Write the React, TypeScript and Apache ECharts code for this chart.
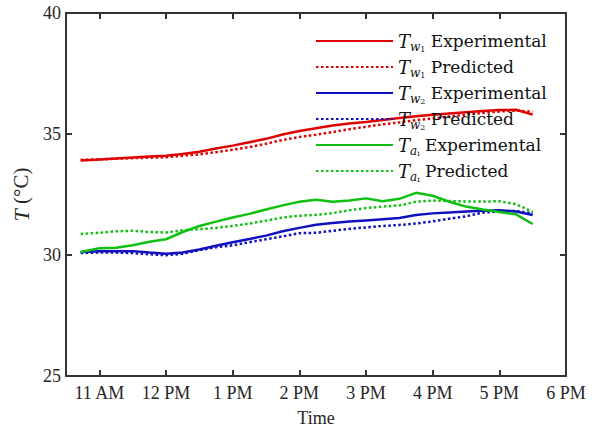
import React, { useEffect, useRef } from "react";
import * as echarts from "echarts";

const hours = [10.72, 11.0, 11.25, 11.5, 11.75, 12.0, 12.25, 12.5, 12.75, 13.0, 13.25, 13.5, 13.75, 14.0, 14.25, 14.5, 14.75, 15.0, 15.25, 15.5, 15.75, 16.0, 16.25, 16.5, 16.75, 17.0, 17.25, 17.5];

const tw1Exp = [33.9, 33.95, 33.99, 34.03, 34.07, 34.1, 34.17, 34.27, 34.4, 34.52, 34.66, 34.8, 34.98, 35.12, 35.24, 35.35, 35.43, 35.5, 35.58, 35.66, 35.73, 35.8, 35.85, 35.9, 35.95, 35.99, 36.0, 35.8];
const tw1Pred = [33.93, 33.95, 33.98, 34.0, 34.02, 34.04, 34.1, 34.16, 34.25, 34.35, 34.46, 34.6, 34.75, 34.88, 34.97, 35.08, 35.2, 35.3, 35.4, 35.48, 35.57, 35.64, 35.72, 35.8, 35.87, 35.93, 35.97, 35.92];
const tw2Exp = [30.12, 30.15, 30.16, 30.16, 30.1, 30.05, 30.1, 30.23, 30.38, 30.53, 30.66, 30.8, 30.98, 31.12, 31.25, 31.32, 31.38, 31.43, 31.48, 31.53, 31.65, 31.72, 31.76, 31.8, 31.83, 31.85, 31.8, 31.65];
const tw2Pred = [30.08, 30.1, 30.1, 30.08, 30.03, 29.99, 30.05, 30.2, 30.32, 30.4, 30.53, 30.65, 30.77, 30.9, 30.92, 31.0, 31.08, 31.14, 31.2, 31.24, 31.3, 31.39, 31.5, 31.6, 31.75, 31.8, 31.82, 31.72];
const taiExp = [30.12, 30.28, 30.3, 30.4, 30.55, 30.65, 30.95, 31.2, 31.38, 31.55, 31.7, 31.88, 32.05, 32.2, 32.28, 32.2, 32.25, 32.34, 32.22, 32.32, 32.57, 32.45, 32.2, 32.0, 31.88, 31.78, 31.68, 31.28];
const taiPred = [30.87, 30.92, 30.98, 31.0, 30.95, 30.93, 31.02, 31.07, 31.12, 31.2, 31.3, 31.42, 31.55, 31.62, 31.66, 31.73, 31.85, 31.94, 32.0, 32.05, 32.2, 32.25, 32.23, 32.21, 32.21, 32.22, 32.1, 31.78];

const xTicks = [11, 12, 13, 14, 15, 16, 17, 18];
const xTickLabels = ["11 AM", "12 PM", "1 PM", "2 PM", "3 PM", "4 PM", "5 PM", "6 PM"];

const seriesNames = ["Tw1 Experimental", "Tw1 Predicted", "Tw2 Experimental", "Tw2 Predicted", "Tai Experimental", "Tai Predicted"];
const legendLabels = [
  "{t|T}{s|w}{ss|1}{n| Experimental}",
  "{t|T}{s|w}{ss|1}{n| Predicted}",
  "{t|T}{s|w}{ss|2}{n| Experimental}",
  "{t|T}{s|w}{ss|2}{n| Predicted}",
  "{t|T}{s|a}{ss|i}{n| Experimental}",
  "{t|T}{s|a}{ss|i}{n| Predicted}",
];
const seriesValues = [tw1Exp, tw1Pred, tw2Exp, tw2Pred, taiExp, taiPred];
const seriesColors = ["#e00000", "#e00000", "#1010c0", "#1010c0", "#10c010", "#10c010"];
const seriesDotted = [false, true, false, true, false, true];

const axisColor = "#333333";
const serif = "'Liberation Serif', 'Times New Roman', serif";
const legendFont = "'DejaVu Serif', serif";

export default function App() {
  const ref = useRef<HTMLDivElement>(null);
  useEffect(() => {
    if (!ref.current) return;
    const chart = echarts.init(ref.current, null, { renderer: "svg" });
    const series = seriesNames.map((name, i) => ({
      name,
      type: "line",
      data: hours.map((h, j) => [h, seriesValues[i][j]]),
      showSymbol: false,
      symbol: "none",
      smooth: false,
      lineStyle: {
        color: seriesColors[i],
        width: 2.5,
        type: seriesDotted[i] ? [2.5, 2.5] : "solid",
      },
      itemStyle: { color: seriesColors[i] },
      z: 3,
    }));
    const labelMap: Record<string, string> = {};
    seriesNames.forEach((n, i) => (labelMap[n] = legendLabels[i]));
    const option: any = {
      animation: false,
      backgroundColor: "#ffffff",
      grid: { left: 66, right: 36, top: 13, bottom: 51, containLabel: false },
      legend: {
        orient: "vertical",
        left: 315,
        top: 32,
        padding: 0,
        itemWidth: 77,
        itemHeight: 14,
        itemGap: 5,
        itemStyle: { opacity: 0 },
        data: seriesNames,
        formatter: (n: string) => labelMap[n],
        textStyle: {
          color: "#111",
          fontFamily: legendFont,
          rich: {
            t: { fontFamily: legendFont, fontStyle: "italic", fontSize: 18, lineHeight: 24, color: "#111" },
            s: { fontFamily: legendFont, fontStyle: "italic", fontSize: 12, lineHeight: 9, verticalAlign: "bottom", color: "#111" },
            ss: { fontFamily: legendFont, fontSize: 8, lineHeight: 4, verticalAlign: "bottom", color: "#111" },
            n: { fontFamily: legendFont, fontSize: 17, lineHeight: 24, color: "#111" },
          },
        },
      },
      xAxis: [
        {
          type: "value",
          position: "bottom",
          min: 10.5,
          max: 18,
          splitLine: { show: false },
          axisLine: { onZero: false, lineStyle: { color: axisColor, width: 2 } },
          axisTick: { inside: true, length: 6, customValues: xTicks, lineStyle: { color: axisColor, width: 2 } },
          axisLabel: {
            customValues: xTicks,
            formatter: (v: number) => xTickLabels[xTicks.indexOf(Math.round(v))] ?? "",
            color: "#262626",
            fontFamily: serif,
            fontSize: 18,
            margin: 8,
          },
          name: "Time",
          nameLocation: "middle",
          nameGap: 33,
          nameTextStyle: { color: "#262626", fontFamily: serif, fontSize: 18 },
        },
        {
          type: "value",
          position: "top",
          min: 10.5,
          max: 18,
          splitLine: { show: false },
          axisLine: { onZero: false, lineStyle: { color: axisColor, width: 2 } },
          axisTick: { inside: true, length: 6, customValues: xTicks, lineStyle: { color: axisColor, width: 2 } },
          axisLabel: { show: false },
        },
      ],
      yAxis: [
        {
          type: "value",
          position: "left",
          min: 25,
          max: 40,
          interval: 5,
          splitLine: { show: false },
          axisLine: { show: true, onZero: false, lineStyle: { color: axisColor, width: 2 } },
          axisTick: { show: true, inside: true, length: 6, lineStyle: { color: axisColor, width: 2 } },
          axisLabel: { color: "#262626", fontFamily: serif, fontSize: 18, margin: 5 },
          name: "{i|T}{r| (°C)}",
          nameLocation: "middle",
          nameGap: 28,
          nameTextStyle: {
            color: "#262626",
            fontFamily: serif,
            fontSize: 21,
            rich: {
              i: { fontFamily: serif, fontStyle: "italic", fontSize: 22, color: "#262626" },
              r: { fontFamily: serif, fontSize: 21, color: "#262626" },
            },
          },
        },
        {
          type: "value",
          position: "right",
          min: 25,
          max: 40,
          interval: 5,
          splitLine: { show: false },
          axisLine: { show: true, onZero: false, lineStyle: { color: axisColor, width: 2 } },
          axisTick: { show: true, inside: true, length: 6, lineStyle: { color: axisColor, width: 2 } },
          axisLabel: { show: false },
        },
      ],
      series,
    };
    chart.setOption(option);
    return () => chart.dispose();
  }, []);
  return (
    <div
      ref={ref}
      style={{ position: "fixed", left: 0, top: 0, width: 602, height: 432, background: "#fff" }}
    />
  );
}
